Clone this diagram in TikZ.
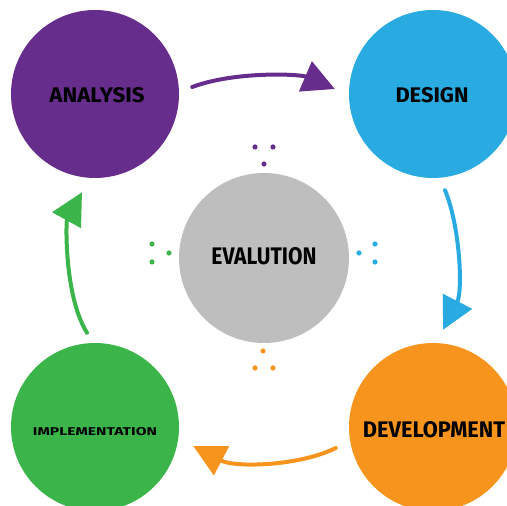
\documentclass[tikz,border=0pt]{standalone}
\usepackage{fontspec}
\setmainfont{Fira Sans}
\usetikzlibrary{arrows.meta}
\definecolor{cpurple}{HTML}{662D8C}
\definecolor{cblue}{HTML}{29ABE2}
\definecolor{cgray}{HTML}{BEBEBE}
\definecolor{cgreen}{HTML}{3BB54A}
\definecolor{corange}{HTML}{F7941E}
\tikzset{
  phase/.style={circle, minimum size=168pt, inner sep=0pt, draw=none},
  cyc/.style={line width=4pt, line cap=round, -{Triangle[length=32pt,width=32pt]}},
  dot/.style={radius=2.6pt},
  lbl/.style={inner sep=0pt, text=black}
}
\newcommand{\fitlbl}[3]{\resizebox{#1}{#2}{\bfseries #3}}
\begin{document}
\begin{tikzpicture}[x=1pt,y=1pt]
\useasboundingbox (0,0) rectangle (507,506);
\clip (0,0) rectangle (507,506);
\node[phase, fill=cpurple] (analysis) at (95,412) {};
\node[phase, fill=cblue] (design) at (433,412) {};
\node[phase, fill=cgray, minimum size=170pt] (eval) at (264,248) {};
\node[phase, fill=cgreen] (impl) at (95,79) {};
\node[phase, fill=corange] (dev) at (433,79) {};
\node[lbl] (tA) at (97,411) {\fitlbl{95pt}{15pt}{ANALYSIS}};
\node[lbl] (tD) at (432,411) {\fitlbl{73pt}{15pt}{DESIGN}};
\node[lbl] (tE) at (264,250) {\fitlbl{105pt}{17pt}{EVALUTION}};
\node[lbl] (tI) at (95,74) {\fitlbl{124pt}{8pt}{IMPLEMENTATION}};
\node[lbl] (tV) at (434,76) {\fitlbl{142pt}{16pt}{DEVELOPMENT}};
\draw[cyc, draw=cpurple] ([shift={(13pt,7pt)}]analysis.east) .. controls +(43pt,16pt) and +(-35pt,15pt) .. ([shift={(-14pt,5pt)}]design.west);
\draw[cyc, draw=cblue] ([shift={(12pt,-12pt)}]design.south) .. controls +(15pt,-36pt) and +(20pt,39pt) .. ([shift={(10pt,13pt)}]dev.north);
\draw[cyc, draw=corange] ([shift={(-13pt,-21pt)}]dev.west) .. controls +(-36pt,-18pt) and +(42pt,-22pt) .. ([shift={(14pt,-19pt)}]impl.east);
\draw[cyc, draw=cgreen] ([shift={(-8pt,10pt)}]impl.north) .. controls +(-23pt,37pt) and +(-16pt,-29pt) .. ([shift={(-13pt,-14pt)}]analysis.south);
\fill[cpurple] (255,359) circle[dot] (273,359) circle[dot] (264,342) circle[dot];
\fill[cgreen] (152,262) circle[dot] (169,253) circle[dot] (152,244) circle[dot];
\fill[cblue] (375,262) circle[dot] (359,253) circle[dot] (375,244) circle[dot];
\fill[corange] (263,155) circle[dot] (255,138) circle[dot] (273,138) circle[dot];
\end{tikzpicture}
\end{document}
